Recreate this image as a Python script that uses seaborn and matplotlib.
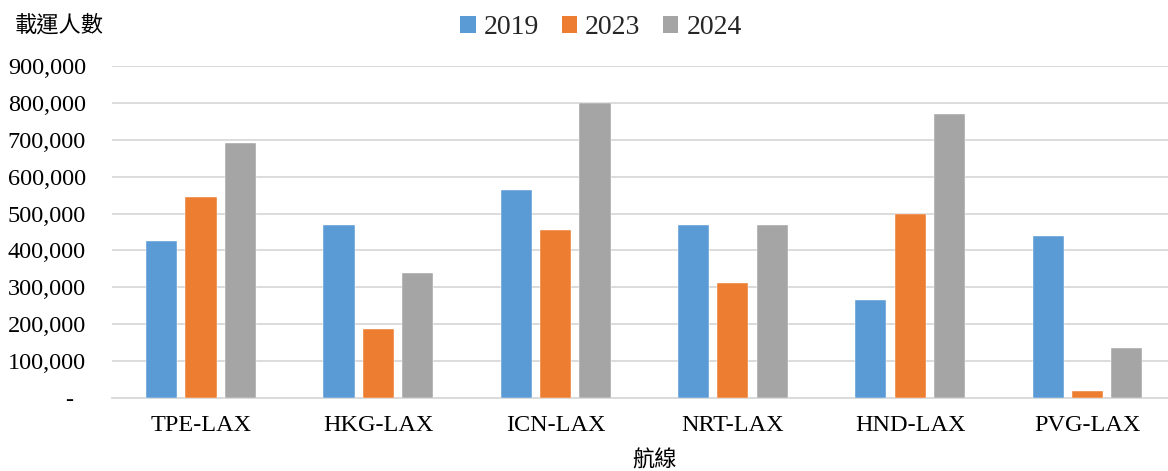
import matplotlib
matplotlib.use("Agg")
import matplotlib.pyplot as plt
from matplotlib.patches import Patch
from matplotlib.ticker import FuncFormatter
import pandas as pd
import seaborn as sns

# Passengers carried per route, by year
routes = ["TPE-LAX", "HKG-LAX", "ICN-LAX", "NRT-LAX", "HND-LAX", "PVG-LAX"]
years = ["2019", "2023", "2024"]
pax_2019 = [426000, 469000, 563000, 470000, 266000, 439000]
pax_2023 = [544000, 186000, 456000, 313000, 500000, 19000]
pax_2024 = [692000, 340000, 800000, 470000, 770000, 136000]
y_ticks = [0, 100000, 200000, 300000, 400000, 500000, 600000, 700000, 800000, 900000]

colors = ["#5B9BD5", "#ED7D31", "#A5A5A5"]

df = pd.DataFrame({
    "route": routes * 3,
    "year": [y for y in years for _ in routes],
    "pax": pax_2019 + pax_2023 + pax_2024,
})

sns.set_theme(style="white")
plt.rcParams["font.family"] = ["Liberation Serif", "Noto Sans CJK TC"]

fig = plt.figure(figsize=(11.68, 4.71), dpi=100)
ax = fig.add_axes([112.4 / 1168, 73 / 471, (1168 - 112.4) / 1168, 332 / 471])

sns.barplot(data=df, x="route", y="pax", hue="year", hue_order=years,
            palette=colors, width=0.666, gap=0.21, saturation=1,
            edgecolor="white", linewidth=0.3, legend=False, ax=ax, zorder=3)

ax.set_xlim(-0.5, 5.454)
ax.set_ylim(0, 900000)
ax.set_yticks(y_ticks)
ax.yaxis.set_major_formatter(FuncFormatter(lambda v, p: "-  " if v == 0 else f"{int(v):,}"))
ax.grid(axis="y", color="#D9D9D9", linewidth=1.3, zorder=0)
ax.grid(axis="x", visible=False)
for s in ["top", "left", "right"]:
    ax.spines[s].set_visible(False)
ax.spines["bottom"].set_color("#D9D9D9")
ax.spines["bottom"].set_linewidth(1.3)
ax.tick_params(axis="y", length=0, pad=19, labelsize=17.5, labelcolor="black")
ax.tick_params(axis="x", length=0, pad=12, labelsize=17.5, labelcolor="black")
ax.set_xlabel("")
ax.set_ylabel("")

fig.text(15 / 1168, 1 - 25 / 471, "載運人數", family=["Noto Sans CJK TC"],
         fontsize=16, ha="left", va="center", color="black")
fig.text(655 / 1168, 1 - 460 / 471, "航線", family=["Noto Sans CJK TC"],
         fontsize=16, ha="center", va="center", color="black")

handles = [Patch(facecolor=c, edgecolor="none") for c in colors]
fig.legend(handles, years, loc="center", bbox_to_anchor=(601 / 1168, 1 - 28 / 471),
           ncol=3, frameon=False, fontsize=20, handlelength=0.55, handleheight=0.55,
           handletextpad=0.3, columnspacing=0.8)

fig.savefig("out.png", dpi=100)
